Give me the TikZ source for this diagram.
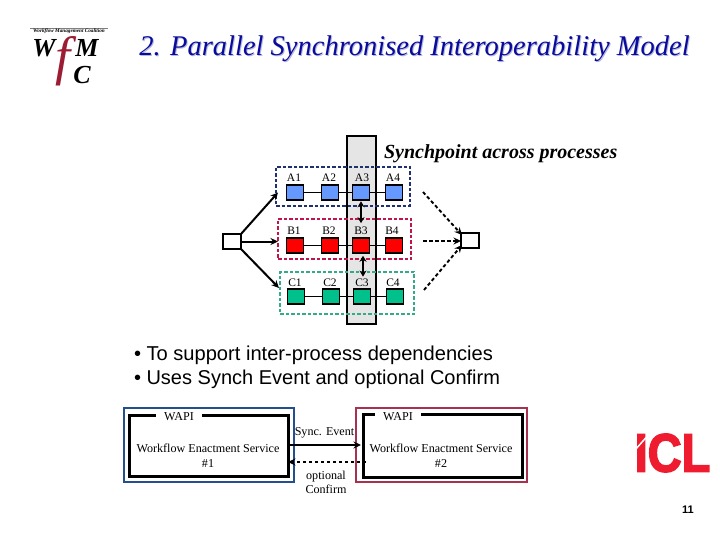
\documentclass[tikz,border=0pt]{standalone}
\usepackage{fontspec}
\setmainfont{Liberation Serif}
\newfontfamily\arialfont{Liberation Sans}
\newfontfamily\iclfont[UprightFont=* Bold,FakeBold=3]{Liberation Sans}
\usetikzlibrary{arrows.meta}
\definecolor{titleblue}{HTML}{0A0A9C}
\definecolor{shadowblue}{HTML}{B4B8DC}
\definecolor{sqA}{HTML}{6699FF}
\definecolor{sqB}{HTML}{FF0000}
\definecolor{sqC}{HTML}{00C18C}
\definecolor{dashA}{HTML}{1F2F6F}
\definecolor{dashB}{HTML}{C0144A}
\definecolor{dashC}{HTML}{33AA88}
\definecolor{outerA}{HTML}{234F8F}
\definecolor{outerB}{HTML}{A83050}
\definecolor{logored}{HTML}{9C1C34}
\definecolor{iclred}{HTML}{EE1C2E}
\tikzset{
  x=1pt,y=-1pt,
  every node/.style={inner sep=0pt,outer sep=0pt,align=center},
  task/.style={draw=black,line width=1.7pt,minimum width=17pt,minimum height=14.5pt},
  endbox/.style={draw=black,line width=1.7pt,fill=white,minimum width=18pt,minimum height=15pt},
  lane/.style={draw=#1,line width=1.2pt,dash pattern=on 3.5pt off 2pt},
  lbl/.style={font=\fontsize{11.5}{12}\selectfont},
  wlbl/.style={font=\fontsize{12.1}{14.5}\selectfont},
  flow/.style={line width=2pt,-{Stealth[length=7.5pt,width=7pt]}},
  dflow/.style={line width=1.9pt,dash pattern=on 3.5pt off 2.5pt,-{Stealth[length=7.5pt,width=7pt]}},
  sync/.style={line width=1.9pt,{Stealth[length=6pt,width=7pt]}-{Stealth[length=6pt,width=7pt]}},
  tie/.style={line width=1.6pt},
  frame/.style={draw=black,line width=3pt},
  titletext/.style={font=\fontsize{28.5}{30}\itshape\selectfont},
}
\begin{document}
\begin{tikzpicture}
\useasboundingbox[fill=white] (0,0) rectangle (720,540);
% logo
\draw[line width=.4pt,gray] (30,28) -- (108,28);
\node (logotop) at (69,31.5) {\fontsize{5.2}{5.2}\bfseries\itshape\selectfont Workflow Management Coalition};
\node (logoW) at (44,48.5) {\fontsize{26}{26}\bfseries\itshape\selectfont W};
\node[text=logored] (logoF) at (63,61) {\fontsize{54}{54}\itshape\selectfont f};
\node (logoM) at (87,47.5) {\fontsize{26}{26}\bfseries\itshape\selectfont M};
\node (logoC) at (82,75) {\fontsize{26}{26}\bfseries\itshape\selectfont C};
% title
\node[titletext,text=shadowblue] (titleshadow) at (415.5,50) {2. Parallel Synchronised Interoperability Model};
\node[titletext,text=titleblue] (title) at (414.5,48.5) {2. Parallel Synchronised Interoperability Model};
% column
\node[draw=black,line width=1.2pt,fill=black!10,minimum width=29pt,minimum height=188pt] (column) at (361.5,230) {};
\node[anchor=base west,font=\fontsize{20}{22}\bfseries\itshape\selectfont] (synchlabel) at (384,158.5) {Synchpoint across processes};
% lanes
\node[lane=dashA,minimum width=134pt,minimum height=39pt] (laneA) at (343,186.5) {};
\node[lane=dashB,minimum width=133pt,minimum height=40pt] (laneB) at (344.5,239) {};
\node[lane=dashC,minimum width=134pt,minimum height=42pt] (laneC) at (347,293) {};
% tasks
\node[task,fill=sqA] (a1) at (295,192.5) {};
\node[task,fill=sqA] (a2) at (330,192.5) {};
\node[task,fill=sqA] (a3) at (361,192.5) {};
\node[task,fill=sqA] (a4) at (394,192.5) {};
\node[task,fill=sqB] (b1) at (295,245.5) {};
\node[task,fill=sqB] (b2) at (330,245.5) {};
\node[task,fill=sqB] (b3) at (361,245.5) {};
\node[task,fill=sqB] (b4) at (394,245.5) {};
\node[task,fill=sqC] (c1) at (296,296.5) {};
\node[task,fill=sqC] (c2) at (331,296.5) {};
\node[task,fill=sqC] (c3) at (362,296.5) {};
\node[task,fill=sqC] (c4) at (395,296.5) {};
\draw[tie] (a1) -- (a2); \draw[tie] (a2) -- (a3); \draw[tie] (a3) -- (a4);
\draw[tie] (b1) -- (b2); \draw[tie] (b2) -- (b3); \draw[tie] (b3) -- (b4);
\draw[tie] (c1) -- (c2); \draw[tie] (c2) -- (c3); \draw[tie] (c3) -- (c4);
% labels
\node[lbl] (la1) at (294,178) {A1};
\node[lbl] (la2) at (329,178) {A2};
\node[lbl] (la3) at (362,178) {A3};
\node[lbl] (la4) at (393,178) {A4};
\node[lbl] (lb1) at (294,231) {B1};
\node[lbl] (lb2) at (329,231) {B2};
\node[lbl] (lb3) at (361,231) {B3};
\node[lbl] (lb4) at (392,231) {B4};
\node[lbl] (lc1) at (295,282.5) {C1};
\node[lbl] (lc2) at (330,282.5) {C2};
\node[lbl] (lc3) at (362,282.5) {C3};
\node[lbl] (lc4) at (393,282.5) {C4};
\draw[sync] ([yshift=-1.5pt]a3.south) -- ([yshift=4pt]lb3.north);
\draw[sync] ([xshift=2pt,yshift=-3pt]b3.south) -- ([xshift=2pt,yshift=2pt]b3.south |- lc3.north);
% start and end
\node[endbox] (start) at (232,241.5) {};
\node[endbox] (finish) at (470,240.5) {};
\coordinate (outA) at (423,192);
\coordinate (outB) at (423,241);
\coordinate (outC) at (424,290);
\coordinate (inC) at (279,288);
\draw[flow] (start.north east) -- ([xshift=2pt]laneA.west |- a1);
\draw[flow] (start.east) -- (laneB.west |- start.east);
\draw[flow] (start.south east) -- (inC);
\draw[dflow] (outA) -- ([xshift=1pt,yshift=-2pt]finish.north west);
\draw[dflow] (outB) -- (finish.west |- outB);
\draw[dflow] (outC) -- ([xshift=1pt,yshift=3pt]finish.south west);
% bullets
\node[anchor=base west,font=\arialfont\fontsize{20.1}{24}\selectfont,align=left] (bullets) at (134,360) {• To support inter-process dependencies};
\node[anchor=base west,font=\arialfont\fontsize{20}{24}\selectfont,align=left] (bullets2) at (134,384) {• Uses Synch Event and optional Confirm};
% services
\node[draw=outerA,line width=2pt,minimum width=170pt,minimum height=74pt] (outer1) at (209,445) {};
\node[draw=outerB,line width=2pt,minimum width=171pt,minimum height=74pt] (outer2) at (441.5,445) {};
\node[frame,minimum width=159pt,minimum height=61pt] (ws1) at (208.5,445.5) {};
\node[frame,minimum width=159pt,minimum height=63pt] (ws2) at (442.5,445.5) {};
\node[fill=white,wlbl,minimum width=46pt,minimum height=9pt] (wapi1) at (179,416.5) {WAPI};
\node[fill=white,wlbl,minimum width=46pt,minimum height=9pt] (wapi2) at (398,417) {WAPI};
\node[wlbl] (text1) at (208,455.5) {Workflow Enactment Service\\\#1};
\node[wlbl] (text2) at (441,455.5) {Workflow Enactment Service\\\#2};
\draw[flow,line width=1.6pt] ([yshift=.5pt]ws1.east) -- ([xshift=-2pt,yshift=.5pt]ws2.west);
\draw[dflow,line width=1.6pt] ([xshift=3pt,yshift=-16.5pt]ws2.west) -- ([yshift=-16.5pt]ws1.east);
\node[wlbl] (syncevent) at (324.5,433) {Sync. Event};
\node[wlbl] (confirm) at (326,482.5) {optional\\Confirm};
% ICL
\node[text=iclred,font=\iclfont\fontsize{54}{54}\selectfont,anchor=center,xscale=.87] (icl) at (672.5,453) {ICL};
\draw[white,line width=1.5pt] (635,450) -- (651,432);
\node[font=\arialfont\fontsize{11}{12}\bfseries\selectfont] (pagenum) at (688,510) {11};
\end{tikzpicture}
\end{document}
